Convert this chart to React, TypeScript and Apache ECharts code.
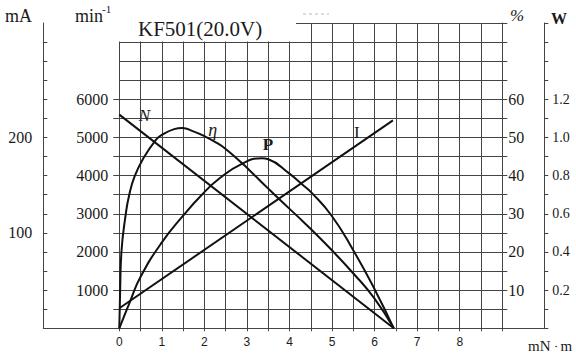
import React, { useEffect, useRef } from "react";
import * as echarts from "echarts";

// ---- data (torque in mN·m) ----
const speedData: number[][] = [[0, 5600], [6.45, 0]]; // min^-1
const currentData: number[][] = [[0, 21], [6.43, 218]]; // mA
const efficiencyData: number[][] = [
  [0, 0], [0.02, 10], [0.05, 20], [0.15, 29.8], [0.23, 34.8], [0.36, 39.8],
  [0.58, 44.8], [0.86, 49.4], [0.99, 50.6], [1.29, 52.2], [1.48, 52.5],
  [1.74, 51.6], [1.99, 50.4], [2.29, 48.6], [2.5, 47.0], [2.88, 43.3],
  [3.07, 41.3], [3.5, 36.6], [3.78, 33.6], [4.24, 28.8], [4.5, 26.0],
  [4.99, 20.5], [5.49, 14.5], [5.99, 7.9], [6.45, 0],
]; // %
const powerData: number[][] = [
  [0, 0], [0.25, 0.139], [0.5, 0.27], [1.0, 0.45], [1.5, 0.59], [1.94, 0.7],
  [2.35, 0.785], [2.88, 0.862], [3.35, 0.891], [3.5, 0.886], [3.99, 0.812],
  [4.32, 0.75], [4.5, 0.715], [4.99, 0.59], [5.49, 0.412], [5.99, 0.209],
  [6.45, 0],
]; // W

const torqueLabels = [0, 1, 2, 3, 4, 5, 6, 7, 8];
const speedTicks = [500, 1000, 1500, 2000, 2500, 3000, 3500, 4000, 4500, 5000, 5500, 6000];
const speedLabels = [1000, 2000, 3000, 4000, 5000, 6000];
const currentTicks = [0, 20, 40, 60, 80, 100, 120, 140, 160, 180, 200, 220, 240, 260, 280, 300];
const currentLabels = [100, 200];
const efficiencyLabels = [10, 20, 30, 40, 50, 60];
const powerLabels = [0.2, 0.4, 0.6, 0.8, 1.0, 1.2];

const TITLE = "KF501(20.0V)";

const SERIF = "'Liberation Serif', 'DejaVu Serif', serif";
const SANS = "'Liberation Sans', Arial, sans-serif";
const GRID_COLOR = "#444";
const CURVE_COLOR = "#111";
const TEXT_COLOR = "#1a1a1a";

function withLabel(
  data: number[][],
  idx: number,
  text: string,
  offset: number[],
  extra: Record<string, unknown> = {}
) {
  return data.map((p, i) =>
    i === idx
      ? {
          value: p,
          label: {
            show: true,
            position: "inside",
            formatter: text,
            offset,
            color: TEXT_COLOR,
            fontFamily: SERIF,
            fontSize: 17,
            ...extra,
          },
        }
      : p
  );
}

export default function App() {
  const ref = useRef<HTMLDivElement>(null);

  useEffect(() => {
    if (!ref.current) return;
    const chart = echarts.init(ref.current, undefined, { renderer: "svg" });
    const lineStyle = { color: GRID_COLOR, width: 1 };
    const plain = (v: number) => String(v);
    const curve = {
      type: "line",
      smooth: 0.5,
      showSymbol: true,
      symbol: "circle",
      symbolSize: 1,
      itemStyle: { color: "rgba(0,0,0,0)" },
      lineStyle: { color: CURVE_COLOR, width: 2 },
      label: { show: false },
      emphasis: { disabled: true },
      silent: true,
      xAxisIndex: 0,
      z: 5,
    };

    chart.setOption({
      animation: false,
      backgroundColor: "#fff",
      grid: [
        { left: 119.3, right: 73.7, top: 23, bottom: 27.7 },
        { left: 43.3, right: 31.7, top: 23, bottom: 27.7 },
      ],
      xAxis: [
        {
          gridIndex: 0,
          type: "value",
          min: 0,
          max: 9,
          interval: 0.5,
          axisLine: { show: true, lineStyle },
          axisTick: { show: true, length: 3, lineStyle },
          axisLabel: {
            color: TEXT_COLOR,
            fontFamily: SANS,
            fontSize: 12,
            margin: 8,
            formatter: (v: number) =>
              torqueLabels.indexOf(v) >= 0 ? String(v) : "",
          },
          splitLine: { show: true, lineStyle },
        },
        {
          gridIndex: 1,
          type: "value",
          min: 0,
          max: 1,
          axisLine: { show: true, lineStyle },
          axisTick: { show: false },
          axisLabel: { show: false },
          splitLine: { show: false },
        },
      ],
      yAxis: [
        {
          gridIndex: 0,
          type: "value",
          position: "left",
          min: 0,
          max: 8000,
          interval: 500,
          axisLine: { show: true, lineStyle },
          axisTick: { show: true, length: 6, lineStyle, customValues: speedTicks },
          axisLabel: {
            customValues: speedLabels,
            formatter: plain,
            color: TEXT_COLOR,
            fontFamily: SERIF,
            fontSize: 16,
            margin: 11,
          },
          splitLine: { show: false },
        },
        {
          gridIndex: 0,
          type: "value",
          position: "left",
          offset: 76,
          min: 0,
          max: 320,
          interval: 20,
          axisLine: { show: true, lineStyle },
          axisTick: { show: true, inside: true, length: 4, lineStyle, customValues: currentTicks },
          axisLabel: {
            customValues: currentLabels,
            formatter: plain,
            color: TEXT_COLOR,
            fontFamily: SERIF,
            fontSize: 16,
            margin: 11,
          },
          splitLine: { show: false },
        },
        {
          gridIndex: 0,
          type: "value",
          position: "right",
          offset: 0,
          min: 0,
          max: 80,
          interval: 5,
          axisLine: { show: true, lineStyle },
          axisTick: { show: true, length: 5, lineStyle },
          axisLabel: {
            customValues: efficiencyLabels,
            formatter: plain,
            color: TEXT_COLOR,
            fontFamily: SERIF,
            fontSize: 16,
            margin: 6,
          },
          splitLine: { show: false },
        },
        {
          gridIndex: 0,
          type: "value",
          position: "right",
          offset: 42,
          min: 0,
          max: 1.6,
          interval: 0.1,
          axisLine: { show: true, lineStyle },
          axisTick: { show: true, length: 4, lineStyle },
          axisLabel: {
            customValues: powerLabels,
            formatter: (v: number) => v.toFixed(1),
            color: TEXT_COLOR,
            fontFamily: SERIF,
            fontSize: 14,
            margin: 8,
          },
          splitLine: { show: true, lineStyle },
        },
        { gridIndex: 1, type: "value", show: false, min: 0, max: 1 },
      ],
      series: [
        {
          ...curve,
          name: "N",
          yAxisIndex: 0,
          smooth: false,
          data: withLabel(speedData, 0, "N", [25, 1], { fontStyle: "italic" }),
        },
        {
          ...curve,
          name: "I",
          yAxisIndex: 1,
          smooth: false,
          data: withLabel(currentData, 1, "I", [-36, 12]),
        },
        {
          ...curve,
          name: "η",
          yAxisIndex: 2,
          data: withLabel(efficiencyData, 13, "η", [-4, -13], { fontStyle: "italic", fontSize: 18 }),
        },
        {
          ...curve,
          name: "P",
          yAxisIndex: 3,
          data: withLabel(powerData, 8, "P", [6, -14], { fontWeight: "bold" }),
        },
      ],
      graphic: [
        { type: "rect", z: 20, shape: { x: 114, y: 8, width: 182, height: 33.5 }, style: { fill: "#fff" } },
        {
          type: "text", z: 30, x: 138, y: 29,
          style: { text: TITLE, fontFamily: SERIF, fontSize: 21, fill: TEXT_COLOR, verticalAlign: "middle" },
        },
        {
          type: "line", z: 30,
          shape: { x1: 303, y1: 14, x2: 329, y2: 14 },
          style: { stroke: "#b8b8b8", lineWidth: 1, lineDash: [3, 3] },
        },
        {
          type: "text", z: 30, x: 5, y: 16,
          style: { text: "mA", fontFamily: SERIF, fontSize: 18, fill: TEXT_COLOR, verticalAlign: "middle" },
        },
        {
          type: "text", z: 30, x: 75, y: 16,
          style: { text: "min", fontFamily: SERIF, fontSize: 18, fill: TEXT_COLOR, verticalAlign: "middle" },
        },
        {
          type: "text", z: 30, x: 102, y: 9,
          style: { text: "-1", fontFamily: SERIF, fontSize: 11, fill: TEXT_COLOR, verticalAlign: "middle" },
        },
        {
          type: "text", z: 30, x: 510, y: 15,
          style: { text: "%", fontFamily: SERIF, fontSize: 17, fontStyle: "italic", fill: TEXT_COLOR, verticalAlign: "middle" },
        },
        {
          type: "text", z: 30, x: 551, y: 18,
          style: { text: "W", fontFamily: SERIF, fontSize: 16, fontWeight: "bold", fill: TEXT_COLOR, verticalAlign: "middle" },
        },
        {
          type: "text", z: 30, x: 528, y: 346,
          style: {
            text: "{a|mN}{b|・}{a|m}",
            verticalAlign: "middle",
            rich: {
              a: { fontFamily: SERIF, fontSize: 15, fill: TEXT_COLOR, color: TEXT_COLOR },
              b: { fontFamily: SERIF, fontSize: 10, fill: TEXT_COLOR, color: TEXT_COLOR },
            },
          },
        },
      ],
    });

    return () => chart.dispose();
  }, []);

  return (
    <div
      ref={ref}
      style={{ position: "fixed", left: 0, top: 0, width: 576, height: 356, background: "#fff" }}
    />
  );
}
